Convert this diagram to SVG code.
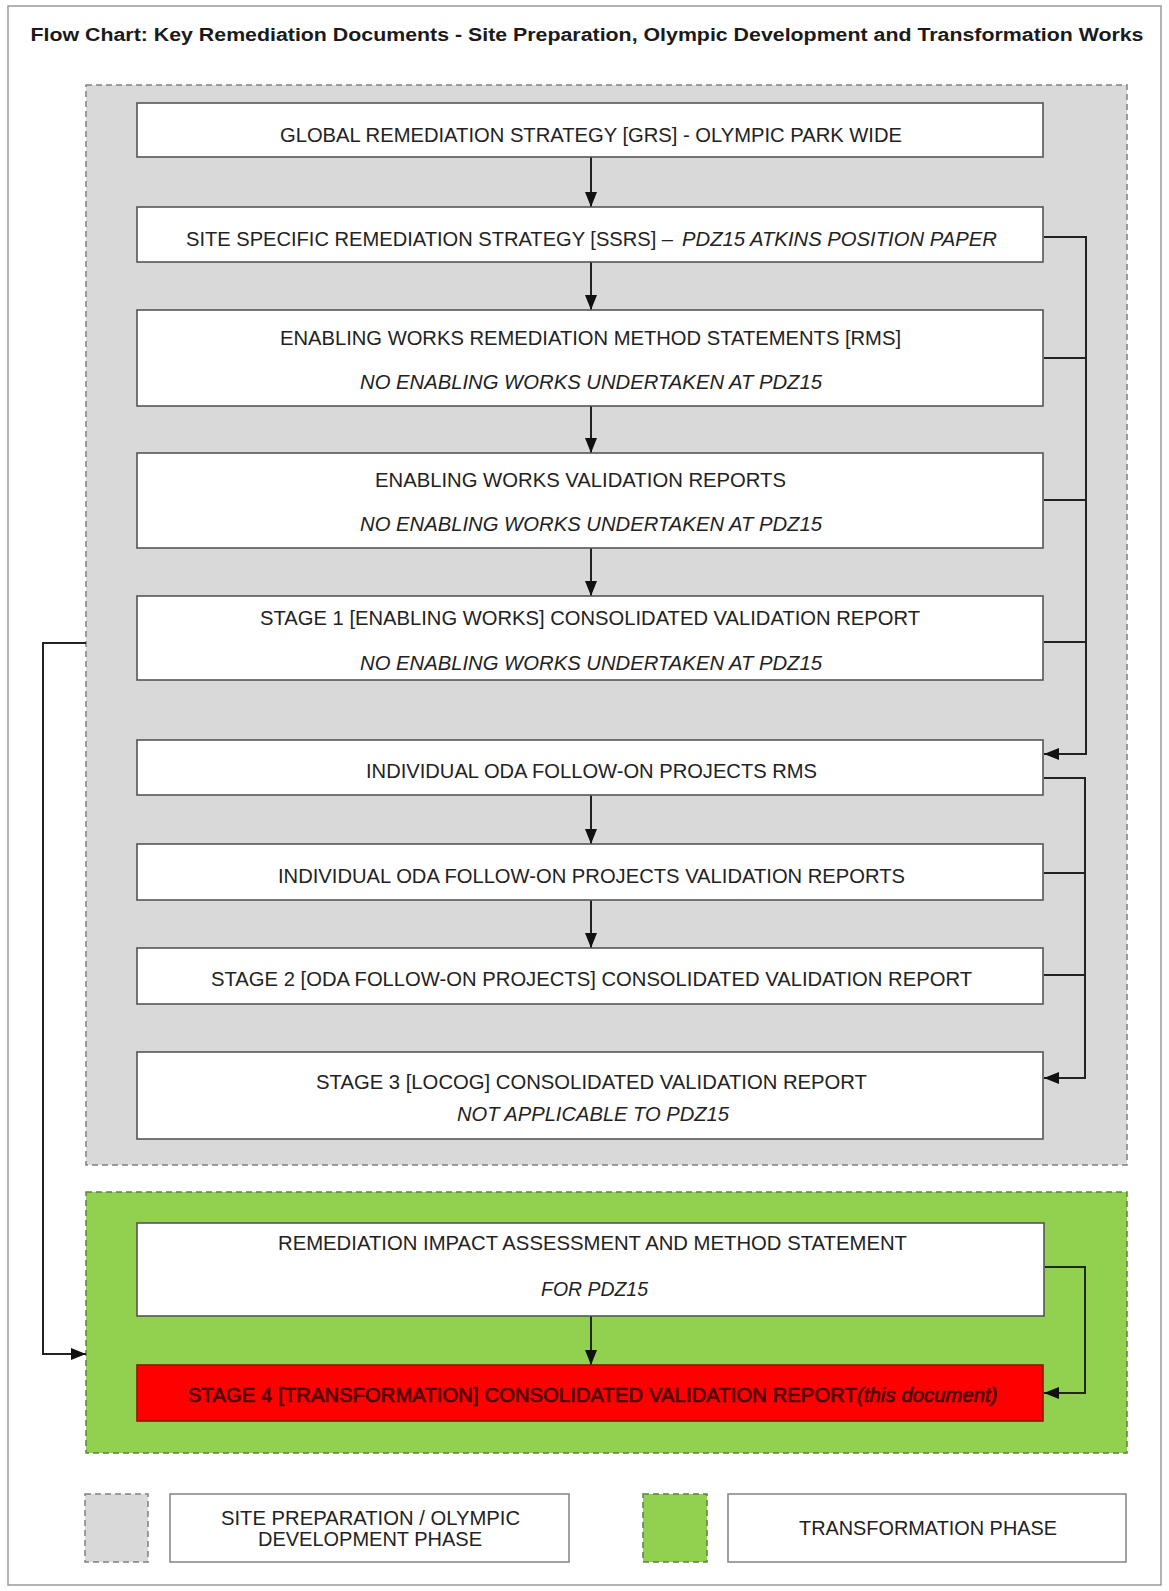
<svg xmlns="http://www.w3.org/2000/svg" width="1169" height="1591" viewBox="0 0 1169 1591">
  <style>
    .frame { fill: #ffffff; stroke: #9a9a9a; stroke-width: 1.5; }
    .phase-grey { fill: #d9d9d9; stroke: #808080; stroke-width: 1.5; stroke-dasharray: 6 4; }
    .phase-green { fill: #92d050; stroke: #5f7f45; stroke-width: 1.5; stroke-dasharray: 6 4; }
    .box { fill: #ffffff; stroke: #555555; stroke-width: 1.6; }
    .box-red { fill: #ff0000; stroke: #8a1a00; stroke-width: 1.6; }
    .t { font-family: "Liberation Sans", Arial, sans-serif; font-size: 21px; fill: #222222; }
    .i { font-style: italic; }
    .title { font-family: "Liberation Sans", Arial, sans-serif; font-size: 18px; font-weight: bold; fill: #1a1a1a; }
    .red-t { font-family: "Liberation Sans", Arial, sans-serif; font-size: 20px; letter-spacing: 0.2px; fill: #4a0000; stroke: #4a0000; stroke-width: 0.7; }
    .conn { fill: none; stroke: #222222; stroke-width: 2; }
    .conn-g { fill: none; stroke: #1f2a12; stroke-width: 2; }
  </style>
  <defs>
    <marker id="arrow" markerUnits="userSpaceOnUse" markerWidth="15" markerHeight="12" refX="15" refY="6" orient="auto">
      <path d="M0,0 L15,6 L0,12 z" fill="#111111"/>
    </marker>
  </defs>

  <rect class="frame" x="8" y="6" width="1153" height="1579"/>
  <text class="title" x="30.5" y="41" textLength="1113" lengthAdjust="spacingAndGlyphs">Flow Chart: Key Remediation Documents - Site Preparation, Olympic Development and Transformation Works</text>

  <g id="phase-site-preparation">
    <rect class="phase-grey" x="86" y="85" width="1041" height="1080"/>
  </g>
  <g id="phase-transformation">
    <rect class="phase-green" x="86" y="1192" width="1041" height="261"/>
  </g>

  <g id="connectors">
    <line class="conn" x1="591" y1="157" x2="591" y2="207" marker-end="url(#arrow)"/>
    <line class="conn" x1="591" y1="262" x2="591" y2="310" marker-end="url(#arrow)"/>
    <line class="conn" x1="591" y1="406" x2="591" y2="453" marker-end="url(#arrow)"/>
    <line class="conn" x1="591" y1="548" x2="591" y2="596" marker-end="url(#arrow)"/>
    <line class="conn" x1="591" y1="795" x2="591" y2="844" marker-end="url(#arrow)"/>
    <line class="conn" x1="591" y1="900" x2="591" y2="948" marker-end="url(#arrow)"/>
    <line class="conn-g" x1="591" y1="1316" x2="591" y2="1365" marker-end="url(#arrow)"/>

    <path class="conn" d="M1044 237 H1086 V754 H1044" marker-end="url(#arrow)"/>
    <path class="conn" d="M1044 358 H1086"/>
    <path class="conn" d="M1044 500 H1086"/>
    <path class="conn" d="M1044 642 H1086"/>

    <path class="conn" d="M1044 778 H1085 V1078 H1044" marker-end="url(#arrow)"/>
    <path class="conn" d="M1044 873 H1085"/>
    <path class="conn" d="M1044 975 H1085"/>

    <path class="conn-g" d="M1045 1267 H1085 V1393 H1044" marker-end="url(#arrow)"/>

    <path class="conn" d="M86 643 H43 V1354 H86" marker-end="url(#arrow)"/>
  </g>

  <g id="grs">
    <rect class="box" x="137" y="103" width="906" height="54"/>
    <text class="t" x="280" y="142" textLength="622" lengthAdjust="spacingAndGlyphs">GLOBAL REMEDIATION STRATEGY [GRS] - OLYMPIC PARK WIDE</text>
  </g>

  <g id="ssrs">
    <rect class="box" x="137" y="207" width="906" height="55"/>
    <text class="t" x="186" y="246" textLength="487" lengthAdjust="spacingAndGlyphs">SITE SPECIFIC REMEDIATION STRATEGY [SSRS] –</text>
    <text class="t i" x="682" y="246" textLength="315" lengthAdjust="spacingAndGlyphs">PDZ15 ATKINS POSITION PAPER</text>
  </g>

  <g id="enabling-rms">
    <rect class="box" x="137" y="310" width="906" height="96"/>
    <text class="t" x="280" y="345" textLength="621" lengthAdjust="spacingAndGlyphs">ENABLING WORKS REMEDIATION METHOD STATEMENTS [RMS]</text>
    <text class="t i" x="360" y="389" textLength="462" lengthAdjust="spacingAndGlyphs">NO ENABLING WORKS UNDERTAKEN AT PDZ15</text>
  </g>

  <g id="enabling-validation">
    <rect class="box" x="137" y="453" width="906" height="95"/>
    <text class="t" x="375" y="487" textLength="411" lengthAdjust="spacingAndGlyphs">ENABLING WORKS VALIDATION REPORTS</text>
    <text class="t i" x="360" y="531" textLength="462" lengthAdjust="spacingAndGlyphs">NO ENABLING WORKS UNDERTAKEN AT PDZ15</text>
  </g>

  <g id="stage1">
    <rect class="box" x="137" y="596" width="906" height="84"/>
    <text class="t" x="260" y="625" textLength="660" lengthAdjust="spacingAndGlyphs">STAGE 1 [ENABLING WORKS] CONSOLIDATED VALIDATION REPORT</text>
    <text class="t i" x="360" y="670" textLength="462" lengthAdjust="spacingAndGlyphs">NO ENABLING WORKS UNDERTAKEN AT PDZ15</text>
  </g>

  <g id="oda-rms">
    <rect class="box" x="137" y="740" width="906" height="55"/>
    <text class="t" x="366" y="778" textLength="451" lengthAdjust="spacingAndGlyphs">INDIVIDUAL ODA FOLLOW-ON PROJECTS RMS</text>
  </g>

  <g id="oda-validation">
    <rect class="box" x="137" y="844" width="906" height="56"/>
    <text class="t" x="278" y="883" textLength="627" lengthAdjust="spacingAndGlyphs">INDIVIDUAL ODA FOLLOW-ON PROJECTS VALIDATION REPORTS</text>
  </g>

  <g id="stage2">
    <rect class="box" x="137" y="948" width="906" height="56"/>
    <text class="t" x="211" y="986" textLength="761" lengthAdjust="spacingAndGlyphs">STAGE 2 [ODA FOLLOW-ON PROJECTS] CONSOLIDATED VALIDATION REPORT</text>
  </g>

  <g id="stage3">
    <rect class="box" x="137" y="1052" width="906" height="87"/>
    <text class="t" x="316" y="1089" textLength="551" lengthAdjust="spacingAndGlyphs">STAGE 3 [LOCOG] CONSOLIDATED VALIDATION REPORT</text>
    <text class="t i" x="457" y="1121" textLength="272" lengthAdjust="spacingAndGlyphs">NOT APPLICABLE TO PDZ15</text>
  </g>

  <g id="remediation-impact">
    <rect class="box" x="137" y="1223" width="907" height="93"/>
    <text class="t" x="278" y="1250" textLength="629" lengthAdjust="spacingAndGlyphs">REMEDIATION IMPACT ASSESSMENT AND METHOD STATEMENT</text>
    <text class="t i" x="541" y="1296" textLength="107" lengthAdjust="spacingAndGlyphs">FOR PDZ15</text>
  </g>

  <g id="stage4">
    <rect class="box-red" x="137" y="1365" width="906" height="56"/>
    <text class="red-t" x="188" y="1402">STAGE 4 [TRANSFORMATION] CONSOLIDATED VALIDATION REPORT<tspan class="i" font-size="20">(this document)</tspan></text>
  </g>

  <g id="legend-site-preparation">
    <rect class="phase-grey" x="85" y="1494" width="63" height="68"/>
    <rect class="box" x="170" y="1494" width="399" height="68" style="stroke:#8a8a8a"/>
    <text class="t" x="221" y="1525" textLength="299" lengthAdjust="spacingAndGlyphs">SITE PREPARATION / OLYMPIC</text>
    <text class="t" x="258" y="1546" textLength="224" lengthAdjust="spacingAndGlyphs">DEVELOPMENT PHASE</text>
  </g>

  <g id="legend-transformation">
    <rect class="phase-green" x="643" y="1494" width="64" height="68"/>
    <rect class="box" x="728" y="1494" width="398" height="68" style="stroke:#8a8a8a"/>
    <text class="t" x="799" y="1535" textLength="258" lengthAdjust="spacingAndGlyphs">TRANSFORMATION PHASE</text>
  </g>
</svg>
